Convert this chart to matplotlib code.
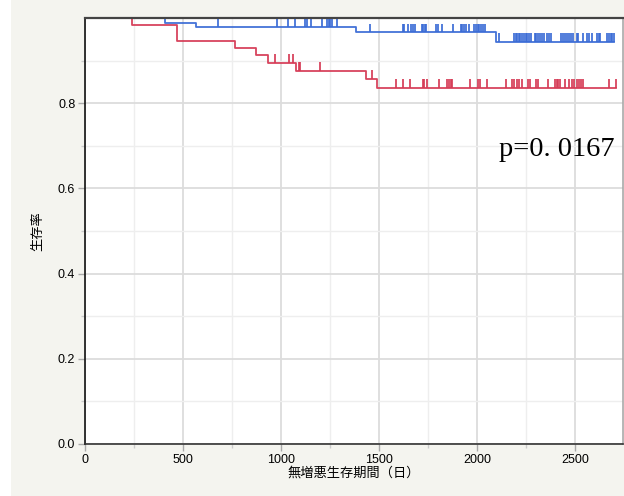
import numpy as np
import matplotlib
matplotlib.use("Agg")
import matplotlib.pyplot as plt
from matplotlib.patches import Rectangle

plt.rcParams['font.family'] = ['Liberation Sans', 'Noto Sans CJK JP', 'DejaVu Sans']

# 群1（青）：イベント時点と生存率
blue_t = [0, 408, 565, 1381, 2095]
blue_s = [1.0, 0.988, 0.979, 0.966, 0.943]
blue_end = 2699
blue_cens = [679, 980, 1036, 1070, 1124, 1131, 1155, 1211, 1233, 1244, 1252, 1259, 1285,
             1454, 1621, 1629, 1646, 1662, 1672, 1682, 1718, 1726, 1735, 1741, 1791, 1801,
             1821, 1876, 1917, 1923, 1934, 1942, 1958, 1986, 1995, 2004, 2012, 2022, 2029,
             2042, 2112, 2189, 2197, 2206, 2214, 2221, 2231, 2241, 2248, 2257, 2267, 2274,
             2294, 2301, 2310, 2323, 2332, 2342, 2359, 2369, 2378, 2430, 2439, 2449, 2458,
             2468, 2478, 2491, 2510, 2515, 2542, 2560, 2573, 2585, 2611, 2621, 2628, 2662,
             2672, 2682, 2690, 2699]

# 群2（赤）
red_t = [0, 238, 470, 765, 871, 932, 1075, 1432, 1488]
red_s = [1.0, 0.984, 0.946, 0.929, 0.912, 0.894, 0.875, 0.856, 0.835]
red_end = 2711
red_cens = [968, 1039, 1059, 1094, 1099, 1197, 1466,
            1585, 1624, 1658, 1723, 1731, 1743, 1808, 1849, 1859, 1867, 1874, 1964, 2005,
            2015, 2049, 2148, 2180, 2190, 2203, 2213, 2228, 2262, 2270, 2301, 2311, 2361,
            2398, 2407, 2415, 2424, 2447, 2469, 2483, 2496, 2509, 2519, 2529, 2539, 2672,
            2711]

p_text = "p=0. 0167"
BLUE = "#3a6bd6"
RED = "#d63a55"

fig = plt.figure(figsize=(6.24, 4.96), dpi=100, facecolor="#f4f4ef")
fig.patches.append(Rectangle((0, 0), 11 / 624, 1, transform=fig.transFigure,
                             facecolor="white", edgecolor="none", zorder=-1))
ax = fig.add_axes([85 / 624, 1 - 444 / 496, 538 / 624, 426 / 496])
ax.set_facecolor("white")


def draw_km(t, s, end, cens, color):
    tt = list(t) + [end]
    ss = list(s) + [s[-1]]
    ax.step(tt, ss, where="post", color=color, lw=1.3, alpha=0.95, zorder=3)
    idx = np.searchsorted(t, cens, side="right") - 1
    lev = np.array(s)[idx]
    ax.vlines(cens, lev, lev + 0.021, color=color, lw=1.3, alpha=0.95, zorder=3)


draw_km(blue_t, blue_s, blue_end, blue_cens, BLUE)
draw_km(red_t, red_s, red_end, red_cens, RED)

ax.set_xlim(0, 2745)
ax.set_ylim(0, 1.0)
ax.set_xticks(np.arange(0, 2501, 500))
ax.set_xticks(np.arange(250, 2745, 500), minor=True)
ax.set_yticks(np.arange(0, 0.81, 0.2))
ax.set_yticks(np.arange(0.1, 1.0, 0.2), minor=True)
ax.set_yticklabels(["0.0", "0.2", "0.4", "0.6", "0.8"])
ax.grid(which="major", color="#dcdcdc", lw=1.3, zorder=0)
ax.grid(which="minor", color="#eeeeee", lw=1.0, zorder=0)
ax.tick_params(which="major", length=5, width=1, color="#aaaaaa", labelsize=9, pad=2)
ax.tick_params(which="minor", length=3, width=1, color="#cccccc")

for side, c in [("left", "#111111"), ("bottom", "#333333"), ("top", "#444444"), ("right", "#aaaaaa")]:
    ax.spines[side].set_color(c)
    ax.spines[side].set_linewidth(1.6 if side == "top" else 1.2)
    ax.spines[side].set_zorder(5)

ax.set_xlabel("無増悪生存期間（日）", fontsize=9.5, labelpad=1)
ax.set_ylabel("生存率", fontsize=9.5, labelpad=10)

ax.text(2700, 0.675, p_text, fontsize=20.5, family=["Liberation Serif"],
        ha="right", va="baseline", zorder=4)

fig.savefig("out.png", dpi=100, facecolor=fig.get_facecolor())
